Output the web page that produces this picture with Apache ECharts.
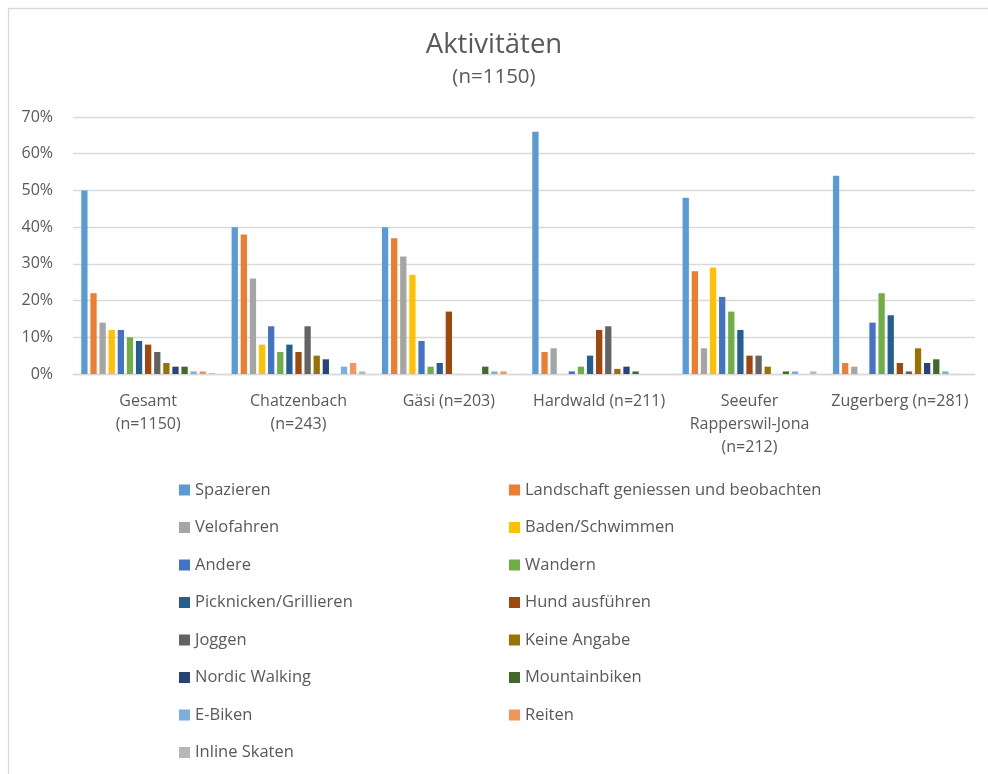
<!DOCTYPE html>
<html>
<head>
<meta charset="utf-8">
<script src="https://cdn.jsdelivr.net/npm/echarts@6/dist/echarts.min.js"></script>
<style>
html,body{margin:0;padding:0;background:#fff;}
#main{width:988px;height:774px;}
</style>
</head>
<body>
<div id="main"></div>
<script>
var categories = ['Gesamt\n(n=1150)', 'Chatzenbach\n(n=243)', 'Gäsi (n=203)', 'Hardwald (n=211)', 'Seeufer\nRapperswil-Jona\n(n=212)', 'Zugerberg (n=281)'];
var yTicks = [0, 10, 20, 30, 40, 50, 60, 70];

var spazieren    = [50, 40, 40, 66, 48, 54];
var landschaft   = [22, 38, 37, 6, 28, 3];
var velofahren   = [14, 26, 32, 7, 7, 2];
var baden        = [12, 8, 27, 0, 29, 0];
var andere       = [12, 13, 9, 0.7, 21, 14];
var wandern      = [10, 6, 2, 2, 17, 22];
var picknicken   = [9, 8, 3, 5, 12, 16];
var hund         = [8, 6, 17, 12, 5, 3];
var joggen       = [6, 13, 0, 13, 5, 0.7];
var keineAngabe  = [3, 5, 0, 1.4, 2, 7];
var nordic       = [2, 4, 0, 2, 0, 3];
var mountainbike = [2, 0, 2, 0.7, 0.7, 4];
var ebiken       = [0.7, 2, 0.7, 0, 0.7, 0.7];
var reiten       = [0.7, 3, 0.7, 0, 0, 0];
var inline       = [0.2, 0.7, 0, 0, 0.7, 0];

var seriesNames = ['Spazieren', 'Landschaft geniessen und beobachten', 'Velofahren', 'Baden/Schwimmen', 'Andere', 'Wandern', 'Picknicken/Grillieren', 'Hund ausführen', 'Joggen', 'Keine Angabe', 'Nordic Walking', 'Mountainbiken', 'E-Biken', 'Reiten', 'Inline Skaten'];
var seriesData = [spazieren, landschaft, velofahren, baden, andere, wandern, picknicken, hund, joggen, keineAngabe, nordic, mountainbike, ebiken, reiten, inline];
var colors = ['#5B9BD5', '#ED7D31', '#A5A5A5', '#FFC000', '#4472C4', '#70AD47', '#255E91', '#9E480E', '#636363', '#997300', '#264478', '#43682B', '#7CAFDD', '#F1975A', '#B7B7B7'];

var FONT = '"Open Sans", Lato, sans-serif';
var TXT = '#595959';

var chart = echarts.init(document.getElementById('main'), null, {renderer: 'canvas'});

var series = seriesNames.map(function (n, i) {
  return {
    name: n,
    type: 'bar',
    data: seriesData[i],
    itemStyle: {color: colors[i]},
    barGap: '45%',
    barCategoryGap: '11%'
  };
});

var leftNames = seriesNames.filter(function (n, i) { return i % 2 === 0; });
var rightNames = seriesNames.filter(function (n, i) { return i % 2 === 1; });

var legendBase = {
  orient: 'vertical',
  top: 480,
  padding: 0,
  itemWidth: 11,
  itemHeight: 11,
  itemGap: 17.5,
  icon: 'rect',
  selectedMode: false,
  textStyle: {fontFamily: FONT, fontSize: 16.5, color: TXT, lineHeight: 20}
};

chart.setOption({
  animation: false,
  color: colors,
  title: [
    {text: 'Aktivitäten', left: 'center', top: 26, textStyle: {fontFamily: FONT, fontSize: 27.5, fontWeight: 'normal', color: TXT}},
    {text: '(n=1150)', left: 'center', top: 62, textStyle: {fontFamily: FONT, fontSize: 20.5, fontWeight: 'normal', color: TXT}}
  ],
  graphic: [{
    type: 'rect', left: 6, top: 6, shape: {width: 1000, height: 800},
    style: {fill: 'none', stroke: '#D9D9D9', lineWidth: 1.3}, silent: true, z: -1
  }],
  legend: [
    Object.assign({}, legendBase, {left: 179, data: leftNames}),
    Object.assign({}, legendBase, {left: 509, data: rightNames})
  ],
  grid: {left: 73, right: 13, top: 117, bottom: 400, containLabel: false},
  xAxis: {
    type: 'category',
    data: categories,
    axisLine: {show: true, lineStyle: {color: '#D9D9D9', width: 1.3}},
    axisTick: {show: false},
    axisLabel: {interval: 0, margin: 16, fontFamily: FONT, fontSize: 16, color: TXT, lineHeight: 23}
  },
  yAxis: {
    type: 'value',
    min: 0, max: 70, interval: 10,
    axisLine: {show: false},
    axisTick: {show: false},
    splitLine: {lineStyle: {color: '#D9D9D9', width: 1.3}},
    axisLabel: {margin: 20, fontFamily: FONT, fontSize: 16, color: TXT, formatter: function (v) { return v + '%'; }}
  },
  series: series
});
</script>
</body>
</html>
